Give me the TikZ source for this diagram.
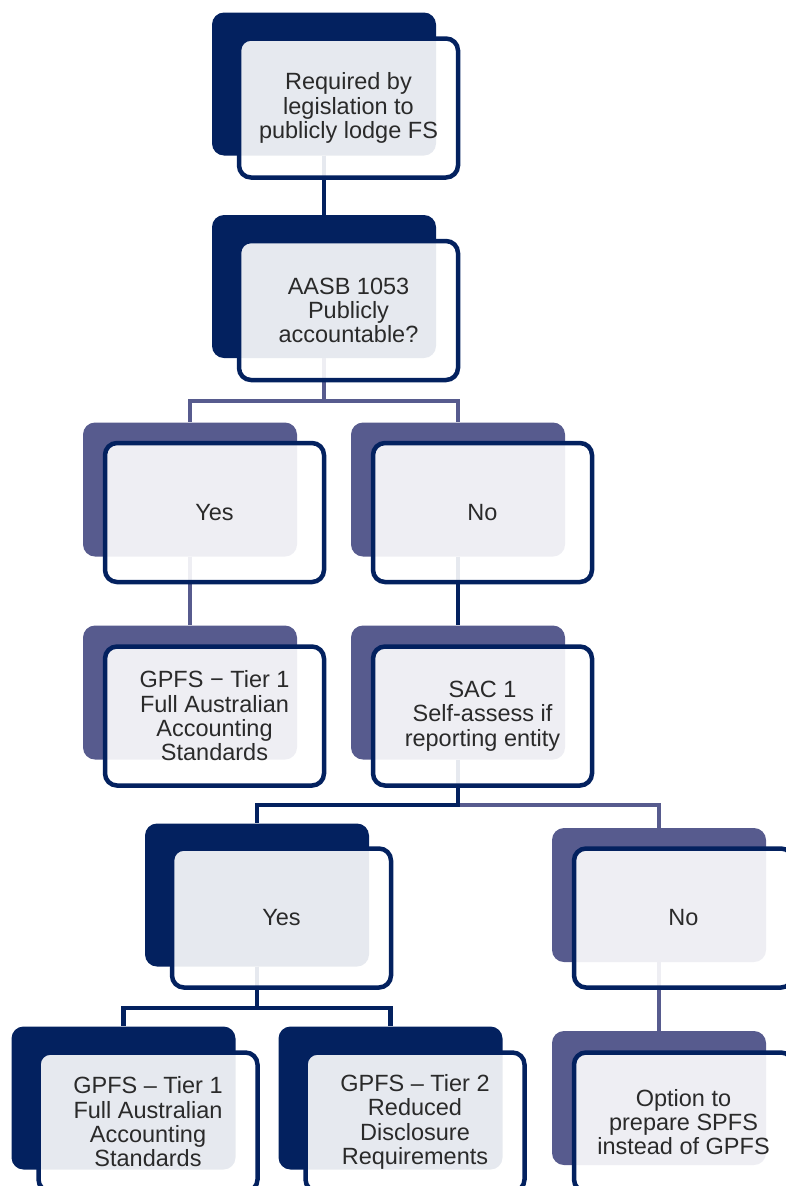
\documentclass[tikz,border=0pt]{standalone}
\usepackage{fontspec}
\setmainfont{Liberation Sans}
\usepackage{xcolor}
\usepackage{tikz}
\definecolor{C0}{HTML}{03215F}
\definecolor{C1}{HTML}{575B8E}
\definecolor{C2}{HTML}{2A2A2A}
\pgfdeclarelayer{bg}
\pgfsetlayers{bg,main}

\begin{document}
\begin{tikzpicture}[x=1pt,y=-1pt]
\tikzstyle{bkn}=[fill=C0,rounded corners=12pt,minimum width=224pt,minimum height=143pt]
\tikzstyle{bks}=[fill=C1,rounded corners=12pt,minimum width=214pt,minimum height=134pt]
\tikzstyle{frt}=[draw=C0,line width=4.5pt,fill=white,fill opacity=0.9,text opacity=1,rounded corners=12pt,minimum width=219pt,minimum height=139pt,align=center,text=C2,font=\fontsize{23.5}{24.3}\selectfont]
\tikzstyle{lnn}=[draw=C0,line width=4.5pt]
\tikzstyle{lns}=[draw=C1,line width=4.5pt]

\useasboundingbox (0,0) rectangle (786,1186);
\clip (0,0) rectangle (786,1186);

\coordinate (b1) at (0,401);
\coordinate (b2) at (0,805);
\coordinate (b3) at (0,1008);
%
\node[bkn](leg) at (324,84){};
\node[frt](legf) at (348.5,108){Required by\\legislation to\\publicly lodge FS};
\node[bkn](pa) at (324,286.5){};
\node[frt](paf) at (348.5,310.5){AASB 1053\\Publicly\\accountable?};
%
\node[bks](pay) at (190,489.5){};
\node[frt](payf) at (214.5,512.5){Yes};
\node[bks](pan) at (458,489.5){};
\node[frt](panf) at (482.5,512.5){No};
%
\node[bks](tone) at (190,692.5){};
\node[frt](tonef) at (214.5,716){GPFS − Tier 1\\Full Australian\\Accounting\\Standards};
\node[bks](sac) at (458,692.5){};
\node[frt](sacf) at (482.5,716){SAC 1\\Self-assess if\\reporting entity};
%
\node[bkn](rey) at (257,895){};
\node[frt](reyf) at (281.5,918){Yes};
\node[bks](ren) at (659,895){};
\node[frt](renf) at (683.5,918){No};
%
\node[bkn](fone) at (123.5,1098){};
\node[frt](fonef) at (148,1122){GPFS – Tier 1\\Full Australian\\Accounting\\Standards};
\node[bkn](ftwo) at (390.5,1098){};
\node[frt](ftwof) at (415,1122){GPFS – Tier 2\\Reduced\\Disclosure\\Requirements};
\node[bks](spfs) at (659,1098){};
\node[frt](spfsf) at (683.5,1122){Option to\\prepare SPFS\\instead of GPFS};
%
\begin{pgfonlayer}{bg}
\draw[lnn] (leg) -- (pa);
\draw[lns] (pa) -- (pa |- b1) -| (pay);
\draw[lns] (pa) -- (pa |- b1) -| (pan);
\draw[lns] (pay) -- (tone);
\draw[lnn] (pan) -- (sac);
\draw[lns] (sac) -- (sac |- b2) -| (ren);
\draw[lnn] (sac) -- (sac |- b2) -| (rey);
\draw[lnn] (rey) -- (rey |- b3) -| (fone);
\draw[lnn] (rey) -- (rey |- b3) -| (ftwo);
\draw[lns] (ren) -- (spfs);
\end{pgfonlayer}
\end{tikzpicture}
\end{document}
